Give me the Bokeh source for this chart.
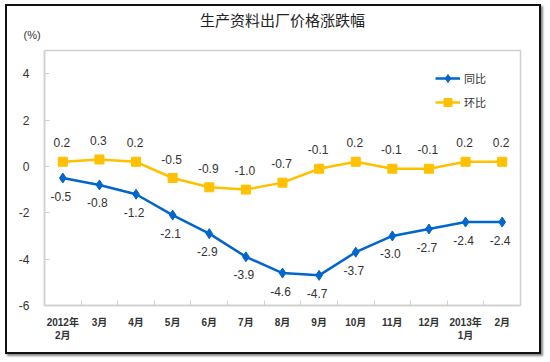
from bokeh.plotting import figure
from bokeh.models import (ColumnDataSource, FixedTicker, Legend, LegendItem, Title,
                          LabelSet, Range1d)
from bokeh.core.properties import value
from bokeh.embed import file_html
from bokeh.resources import INLINE

categories = ["2012年\n2月", "3月", "4月", "5月", "6月", "7月", "8月", "9月",
              "10月", "11月", "12月", "2013年\n1月", "2月"]
yoy = [-0.5, -0.8, -1.2, -2.1, -2.9, -3.9, -4.6, -4.7, -3.7, -3.0, -2.7, -2.4, -2.4]
mom = [0.2, 0.3, 0.2, -0.5, -0.9, -1.0, -0.7, -0.1, 0.2, -0.1, -0.1, 0.2, 0.2]
y_ticks = [-6, -4, -2, 0, 2, 4]
series_names = ["同比", "环比"]
title_text = "生产资料出厂价格涨跌幅"
unit_text = "(%)"

BLUE = "#0066CC"
GOLD = "#FFC000"
TXT = "#333333"
AXIS = "#D0D0D0"
CJK = "Noto Sans CJK SC"
LAT = "Liberation Sans"
MIX = "'Liberation Sans', 'Noto Sans CJK SC'"

idx = list(range(len(categories)))
src = ColumnDataSource(dict(
    x=idx, yoy=yoy, mom=mom,
    yoy_t=[f"{v:.1f}" for v in yoy],
    mom_t=[f"{v:.1f}" for v in mom],
))

p = figure(width=536, height=350,
           x_range=Range1d(-0.5, len(categories) - 0.5),
           y_range=Range1d(-6, 5),
           output_backend="svg", toolbar_location=None,
           min_border_left=37, min_border_right=23,
           min_border_top=44, min_border_bottom=51)
p.styles = {"border": "2px solid #111", "box-shadow": "2px 2px 2px #888",
            "margin-left": "5px", "margin-top": "4px"}

p.title.text = title_text
p.title.align = "center"
p.title.vertical_align = "bottom"
p.title.text_font = CJK
p.title.text_font_size = "15px"
p.title.text_font_style = "normal"
p.title.text_color = "#222222"
p.title.standoff = -19

unit = Title(text=unit_text, align="left", offset=-21, standoff=16,
             vertical_align="top",
             text_font=LAT, text_font_size="11px", text_font_style="normal",
             text_color=TXT)
p.add_layout(unit, "above")

p.xgrid.visible = False
p.ygrid.visible = False
p.outline_line_color = AXIS
p.outline_line_width = 1.5
p.background_fill_color = "white"
p.border_fill_color = "white"

xa = p.xaxis[0]
xa.ticker = FixedTicker(ticks=idx, minor_ticks=[i - 0.5 for i in idx] + [len(idx) - 0.5])
xa.major_label_overrides = {i: c for i, c in zip(idx, categories)}
xa.major_tick_line_color = None
xa.minor_tick_in = 5
xa.minor_tick_out = 0
xa.minor_tick_line_color = AXIS
xa.axis_line_color = AXIS
xa.axis_line_width = 1.5
xa.major_label_text_font = MIX
xa.major_label_text_font_size = "10px"
xa.major_label_text_font_style = "bold"
xa.major_label_text_color = TXT
xa.major_label_standoff = 5

ya = p.yaxis[0]
ya.ticker = FixedTicker(ticks=y_ticks, minor_ticks=[])
ya.major_label_overrides = {v: str(v) for v in y_ticks}
ya.major_tick_in = 5
ya.major_tick_out = 0
ya.major_tick_line_color = AXIS
ya.minor_tick_line_color = None
ya.axis_line_color = AXIS
ya.axis_line_width = 1.5
ya.major_label_text_font = LAT
ya.major_label_text_font_size = "12px"
ya.major_label_text_color = TXT
ya.major_label_standoff = 15

l1 = p.line("x", "yoy", source=src, line_color=BLUE, line_width=2.5)
s1 = p.scatter("x", "yoy", source=src, marker="diamond", size=10,
               fill_color=BLUE, line_color=BLUE)
l2 = p.line("x", "mom", source=src, line_color=GOLD, line_width=2.5)
s2 = p.scatter("x", "mom", source=src, marker="square", size=9,
               fill_color=GOLD, line_color=GOLD)

lab_mom = LabelSet(x="x", y="mom", text="mom_t", source=src, y_offset=19, x_offset=-1,
                   text_align="center", text_baseline="middle",
                   text_font=value(LAT), text_font_size="12px", text_color=TXT)
lab_yoy = LabelSet(x="x", y="yoy", text="yoy_t", source=src, y_offset=-18, x_offset=-2,
                   text_align="center", text_baseline="middle",
                   text_font=value(LAT), text_font_size="12px", text_color=TXT)
p.add_layout(lab_mom)
p.add_layout(lab_yoy)

legend = Legend(items=[LegendItem(label=series_names[0], renderers=[l1, s1]),
                       LegendItem(label=series_names[1], renderers=[l2, s2])],
                location=(391, 193), padding=0, spacing=4, margin=0,
                glyph_width=25, glyph_height=20, label_height=20, label_standoff=4,
                label_text_font=CJK, label_text_font_size="11px", label_text_color=TXT,
                border_line_color=None, background_fill_alpha=0)
p.add_layout(legend)

open("out.html", "w").write(file_html(p, INLINE))
